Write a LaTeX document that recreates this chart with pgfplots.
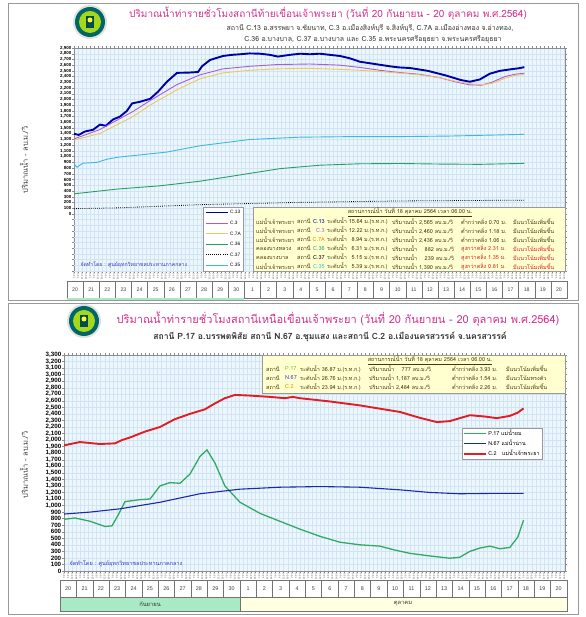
\documentclass[border=0pt]{standalone}
\usepackage{fontspec}
\setmainfont{Liberation Sans}
\newfontfamily\thai[Script=Thai]{Loma}
\usepackage{pgfplots}
\pgfplotsset{compat=1.18}

\definecolor{plotbg}{RGB}{236,246,252}
\definecolor{gridc}{RGB}{208,229,243}
\definecolor{ttl}{RGB}{214,48,140}
\definecolor{cA}{RGB}{0,0,170}
\definecolor{cB}{RGB}{170,90,220}
\definecolor{cC}{RGB}{240,200,90}
\definecolor{cD}{RGB}{40,160,100}
\definecolor{cE}{RGB}{60,185,225}
\definecolor{pg}{RGB}{50,170,100}
\definecolor{pn}{RGB}{30,40,170}
\definecolor{pr}{RGB}{225,30,35}
\definecolor{stt}{RGB}{75,55,10}
\definecolor{stbg}{RGB}{255,255,208}
\definecolor{credit}{RGB}{60,60,200}
\definecolor{sepf}{RGB}{168,234,196}
\definecolor{octf}{RGB}{255,255,225}
\definecolor{redt}{RGB}{225,30,30}
\definecolor{orgt}{RGB}{235,140,0}
\definecolor{lgt}{RGB}{110,190,60}

\pgfplotsset{
  hourly/.style={
    scale only axis, xmin=0, xmax=30.8,
    axis background/.style={fill=plotbg},
    grid=major, major grid style={gridc, line width=0.3pt},
    xtick={0,0.25,...,30.75},
    xticklabel={\pgfmathtruncatemacro\hh{round(mod(\tick*24,24))}\hh:00},
    xticklabel style={rotate=90, anchor=east, font=\fontsize{2.4}{2.4}\selectfont, inner sep=0.6pt, text=black!70},
    axis line style={black!45}, tick style={black!45, line width=0.3pt},
    major tick length=1.6pt, tick align=outside,
    /pgf/number format/1000 sep={,},
    /pgf/number format/assume math mode=true,
    yticklabel style={inner sep=1pt},
    legend cell align=left,
    legend image code/.code={\draw[##1] (0pt,0pt) -- (22pt,0pt);},
  }
}

% status rows, panel 1: y, river, code colour, code, level, flow, tail colour, tail1, tail2
\newcommand\srowA[9]{%
  \node[anchor=west] at (256,#1) {#2};
  \node[anchor=west] at (297,#1) {สถานี};
  \node[anchor=east,text=#3] at (325,#1) {#4};
  \node[anchor=west] at (327,#1) {ระดับน้ำ #5 ม.(ร.ท.ก.)};
  \node[anchor=west] at (392,#1) {ปริมาณน้ำ #6 ลบ.ม./วิ};
  \node[anchor=west,text=#7] at (461,#1) {#8};
  \node[anchor=west,text=#7] at (513,#1) {#9};
}
% status rows, panel 2
\newcommand\srowB[7]{%
  \node[anchor=west] at (266,#1) {สถานี};
  \node[anchor=west,text=#2] at (285,#1) {#3};
  \node[anchor=west] at (300,#1) {ระดับน้ำ #4 ม.(ร.ท.ก.)};
  \node[anchor=west] at (369,#1) {ปริมาณน้ำ #5 ลบ.ม./วิ};
  \node[anchor=west] at (452,#1) {#6};
  \node[anchor=west] at (506,#1) {#7};
}
\newcommand\logo[2]{%
  \fill[black!12] (#1,#2) circle (17);
  \fill[teal!80!black] (#1,#2) circle (15);
  \fill[yellow!65!green] (#1,#2) circle (11);
  \fill[teal!60!black] ({#1-4},{#2+6}) rectangle ({#1+4},{#2-6});
  \fill[yellow!80] (#1,{#2-2}) circle (2.5);
}

\begin{document}
\begin{tikzpicture}
\path[use as bounding box, fill=white] (0,0) rectangle (585pt,617pt);

% ---------------- panel 1 : below the dam ----------------
\begin{axis}[hourly,
  at={(74pt,346pt)}, anchor=south west, width=491pt, height=223pt,
  ymin=-1000, ymax=2900,
  ytick={0,100,...,2900},
  extra y ticks={-1000,-900,...,-100}, extra y tick labels={},
  yticklabel style={font=\fontsize{4.4}{4.4}\selectfont\bfseries},
  legend style={at={(0.263,0.287)}, anchor=north west, draw=black!40, fill=white,
    font=\fontsize{4.8}{5}\selectfont, inner sep=1.5pt, row sep=3pt,
    nodes={inner sep=1.3pt, text height=4pt, text depth=1pt}},
]
\addplot[cA, line width=1.9pt] coordinates {
 (0,1400) (0.3,1380) (0.69,1440) (1.2,1470) (1.63,1560) (2.0,1540) (2.45,1650)
 (2.88,1700) (3.32,1800) (3.64,1930) (4.14,1960) (4.77,2010) (5.27,2135)
 (5.83,2310) (6.46,2465) (7.2,2470) (7.78,2480) (8.03,2580) (8.53,2690)
 (9.34,2760) (9.9,2780) (10.41,2790) (11.0,2805) (11.66,2800) (12.29,2780)
 (12.79,2750) (13.54,2780) (14.2,2800) (14.8,2790) (15.4,2800) (16.05,2780)
 (16.7,2760) (17.3,2720) (17.93,2660) (18.87,2620) (19.81,2580) (20.4,2560)
 (21.07,2550) (22.2,2500) (23.32,2420) (24.26,2340) (24.83,2310) (25.46,2350)
 (26.08,2450) (26.71,2500) (27.46,2530) (27.9,2545) (28.25,2565)};
\addlegendentry{C.13}
\addplot[cB, line width=0.9pt] coordinates {
 (0,1310) (1.63,1475) (3.70,1790) (4.77,1980) (6.46,2260) (7.90,2430)
 (9.34,2535) (11.04,2580) (12.73,2610) (14.80,2620) (16.68,2600) (17.93,2560)
 (19.19,2510) (20.44,2470) (21.69,2440) (22.95,2380) (23.89,2310) (24.83,2255)
 (25.58,2250) (26.21,2300) (27.02,2400) (27.65,2440) (28.25,2460)};
\addlegendentry{C.3}
\addplot[cC, line width=0.9pt] coordinates {
 (0,1290) (1.63,1406) (3.70,1700) (4.77,1900) (6.46,2170) (7.90,2360)
 (9.34,2465) (11.04,2510) (12.73,2535) (14.80,2545) (17.30,2520) (19.19,2490)
 (20.44,2460) (21.69,2430) (22.95,2380) (23.89,2320) (24.83,2275) (25.58,2260)
 (26.21,2280) (27.02,2370) (27.65,2420) (28.25,2436)};
\addlegendentry{C.7A}
\addplot[cD, line width=0.9pt] coordinates {
 (0,350) (2.76,434) (5.39,490) (7.90,570) (10.41,680) (12.92,790) (15.42,850)
 (17.93,875) (20.44,880) (22.95,870) (25.46,865) (28.25,882)};
\addlegendentry{C.36}
\addplot[black, line width=0.8pt, dash pattern=on 0.8pt off 1.3pt] coordinates {
 (0,90) (2.76,104) (7.90,160) (14.17,200) (20.44,225) (28.25,239)};
\addlegendentry{C.37}
\addplot[cE, line width=0.9pt] coordinates {
 (0,870) (0.19,815) (0.56,885) (1.44,900) (2.07,955) (2.76,990) (4.14,1030)
 (5.83,1080) (7.90,1190) (11.04,1300) (14.17,1340) (17.30,1350) (20.44,1350)
 (23.58,1360) (26.71,1380) (28.25,1390)};
\addlegendentry{C.35}
\end{axis}

% ---------------- panel 2 : above the dam ----------------
\begin{axis}[hourly,
  at={(64pt,46pt)}, anchor=south west, width=501pt, height=216pt,
  ymin=0, ymax=3300,
  ytick={0,100,...,3300},
  yticklabel style={font=\fontsize{6.2}{6}\selectfont\bfseries},
  legend style={at={(0.794,0.662)}, anchor=north west, draw=black!40, fill=white,
    font=\thai\fontsize{5.4}{6}\selectfont, inner sep=1pt, row sep=1.2pt,
    nodes={inner sep=1.4pt, text height=4.5pt, text depth=1.5pt}},
]
\addplot[pg, line width=1.3pt] coordinates {
 (0,790) (0.68,810) (1.60,760) (2.52,680) (2.95,690) (3.32,850) (3.75,1060)
 (4.67,1090) (5.29,1100) (5.90,1300) (6.51,1350) (7.13,1340) (7.74,1480)
 (8.36,1750) (8.79,1850) (9.28,1650) (9.89,1300) (10.82,1050) (12.05,880)
 (13.27,760) (14.50,640) (15.73,530) (16.96,440) (18.19,400) (19.42,380)
 (20.34,320) (21.26,270) (22.49,230) (23.72,195) (24.33,210) (24.95,300)
 (25.56,350) (26.18,380) (26.79,340) (27.41,360) (27.90,520) (28.25,777)};
\addlegendentry{P.17 แม่น้ำยม}
\addplot[pn, line width=1.1pt] coordinates {
 (0,870) (1.60,900) (3.44,950) (5.90,1050) (8.36,1180) (10.82,1250) (13.27,1280)
 (15.73,1290) (18.19,1280) (20.65,1240) (22.49,1200) (24.33,1180) (26.18,1185)
 (28.25,1187)};
\addlegendentry{N.67 แม่น้ำน่าน}
\addplot[pr, line width=1.9pt] coordinates {
 (0,1920) (0.98,1970) (2.21,1940) (3.13,1950) (3.56,2000) (4.06,2040) (4.98,2130)
 (5.90,2200) (6.82,2320) (7.74,2400) (8.66,2470) (9.28,2560) (9.89,2640)
 (10.51,2690) (11.43,2680) (12.66,2660) (13.58,2640) (14.07,2660) (14.50,2640)
 (16.35,2590) (18.19,2530) (20.65,2430) (21.88,2340) (22.92,2275) (23.72,2290)
 (24.95,2380) (25.87,2360) (26.61,2335) (27.41,2370) (27.90,2420) (28.25,2484)};
\addlegendentry{C.2\ \ \ แม่น้ำเจ้าพระยา}
\end{axis}

\begin{scope}[x=1pt, y=-1pt, yshift=617pt]
% ----- panel 1 decorations
\draw[black!40, line width=0.6pt] (8,3) rectangle (578,300);
\logo{90}{22}
\node[text=ttl, font=\thai\fontsize{10}{10}\selectfont] at (328,14)
  {ปริมาณน้ำท่ารายชั่วโมงสถานีท้ายเขื่อนเจ้าพระยา (วันที่ 20 กันยายน - 20 ตุลาคม พ.ศ.2564)};
\node[text=black!80, font=\thai\fontsize{7}{7}\selectfont] at (370,28.5)
  {สถานี C.13 อ.สรรพยา จ.ชัยนาท, C.3 อ.เมืองสิงห์บุรี จ.สิงห์บุรี, C.7A อ.เมืองอ่างทอง จ.อ่างทอง,};
\node[text=black!80, font=\thai\fontsize{7}{7}\selectfont] at (373,39)
  {C.36 อ.บางบาล, C.37 อ.บางบาล และ C.35 อ.พระนครศรีอยุธยา จ.พระนครศรีอยุธยา};
\node[rotate=90, text=black!75, font=\thai\fontsize{7.5}{7}\selectfont] at (24,160) {ปริมาณน้ำ - ลบ.ม./วิ};
\node[anchor=west, text=credit, font=\thai\fontsize{5.2}{5}\selectfont] at (77,265)
  {จัดทำโดย : ศูนย์อุทกวิทยาชลประทานภาคกลาง};
\draw[black!40, fill=stbg] (253,207) rectangle (565,271);
\begin{scope}[font=\thai\fontsize{5.5}{5}\selectfont, text=stt, every node/.style={inner sep=0pt}]
\node at (410,212.5) {\underline{สถานการณ์น้ำ วันที่ 18 ตุลาคม 2564 เวลา 06.00 น.}};
\srowA{221.5}{แม่น้ำเจ้าพระยา}{cA}{C.13}{15.64}{2,565}{stt}{ต่ำกว่าตลิ่ง 0.70 ม.}{มีแนวโน้มเพิ่มขึ้น}
\srowA{230.5}{แม่น้ำเจ้าพระยา}{cB}{C.3}{12.22}{2,460}{stt}{ต่ำกว่าตลิ่ง 1.18 ม.}{มีแนวโน้มเพิ่มขึ้น}
\srowA{239.5}{แม่น้ำเจ้าพระยา}{orgt}{C.7A}{\ \,8.94}{2,436}{stt}{ต่ำกว่าตลิ่ง 1.06 ม.}{มีแนวโน้มเพิ่มขึ้น}
\srowA{248.5}{คลองบางหลวง}{cD}{C.36}{\ \,6.31}{\ \ \ 882}{redt}{สูงกว่าตลิ่ง 2.31 ม.}{มีแนวโน้มเพิ่มขึ้น}
\srowA{257.5}{คลองบางบาล}{black}{C.37}{\ \,5.15}{\ \ \ 239}{redt}{สูงกว่าตลิ่ง 1.35 ม.}{มีแนวโน้มเพิ่มขึ้น}
\srowA{266.5}{แม่น้ำเจ้าพระยา}{cE}{C.35}{\ \,5.39}{1,390}{redt}{สูงกว่าตลิ่ง 0.81 ม.}{มีแนวโน้มเพิ่มขึ้น}
\end{scope}
\foreach \d [count=\i from 0] in {20,21,22,23,24,25,26,27,28,29,30,1,2,3,4,5,6,7,8,9,10,11,12,13,14,15,16,17,18,19,20} {
  \draw[black!55, fill=white, line width=0.4pt] ({67+\i*16.13},281) rectangle ({67+(\i+1)*16.13},298);
  \node[font=\fontsize{5.2}{5}\selectfont, text=black!75] at ({67+(\i+0.5)*16.13},289.5) {\d};
}
\fill[sepf] (67,298.3) rectangle (244.4,300);

% ----- panel 2 decorations
\draw[black!40, line width=0.6pt] (8,303) rectangle (578,614);
\logo{84}{321}
\node[text=ttl, font=\thai\fontsize{11}{11}\selectfont] at (338,319)
  {ปริมาณน้ำท่ารายชั่วโมงสถานีเหนือเขื่อนเจ้าพระยา (วันที่ 20 กันยายน - 20 ตุลาคม พ.ศ.2564)};
\node[text=black!80, font=\thai\bfseries\fontsize{8.6}{8}\selectfont] at (330,337)
  {สถานี P.17 อ.บรรพตพิสัย สถานี N.67 อ.ชุมแสง และสถานี C.2 อ.เมืองนครสวรรค์ จ.นครสวรรค์};
\node[rotate=90, text=black!75, font=\thai\fontsize{7.5}{7}\selectfont] at (24,465) {ปริมาณน้ำ - ลบ.ม./วิ};
\node[anchor=west, text=credit, font=\thai\fontsize{5.5}{5}\selectfont] at (66,564)
  {จัดทำโดย : ศูนย์อุทกวิทยาชลประทานภาคกลาง};
\draw[black!40, fill=stbg] (262,355) rectangle (565,393);
\begin{scope}[font=\thai\fontsize{5.5}{5}\selectfont, text=stt, every node/.style={inner sep=0pt}]
\node at (430,360) {\underline{สถานการณ์น้ำ วันที่ 18 ตุลาคม 2564 เวลา 06.00 น.}};
\srowB{369}{lgt}{P.17}{36.87}{\ \ \ 777}{ต่ำกว่าตลิ่ง 3.93 ม.}{มีแนวโน้มเพิ่มขึ้น}
\srowB{378}{credit}{N.67}{26.76}{1,187}{ต่ำกว่าตลิ่ง 1.54 ม.}{มีแนวโน้มทรงตัว}
\srowB{387}{orgt}{C.2}{23.94}{2,484}{ต่ำกว่าตลิ่ง 2.26 ม.}{มีแนวโน้มเพิ่มขึ้น}
\end{scope}
\foreach \d [count=\i from 0] in {20,21,22,23,24,25,26,27,28,29,30,1,2,3,4,5,6,7,8,9,10,11,12,13,14,15,16,17,18,19,20} {
  \draw[black!55, fill=white, line width=0.4pt] ({60+\i*16.35},580) rectangle ({60+(\i+1)*16.35},597);
  \node[font=\fontsize{5.4}{5}\selectfont, text=black!75] at ({60+(\i+0.5)*16.35},588.5) {\d};
}
\draw[black!55, fill=sepf, line width=0.4pt] (60,597) rectangle (239.9,611);
\draw[black!55, fill=octf, line width=0.4pt] (239.9,597) rectangle (567,611);
\node[font=\thai\fontsize{5.8}{5}\selectfont, text=black!80] at (150,604) {กันยายน};
\node[font=\thai\fontsize{5.8}{5}\selectfont, text=black!80] at (403,604) {ตุลาคม};
\end{scope}
\end{tikzpicture}
\end{document}
